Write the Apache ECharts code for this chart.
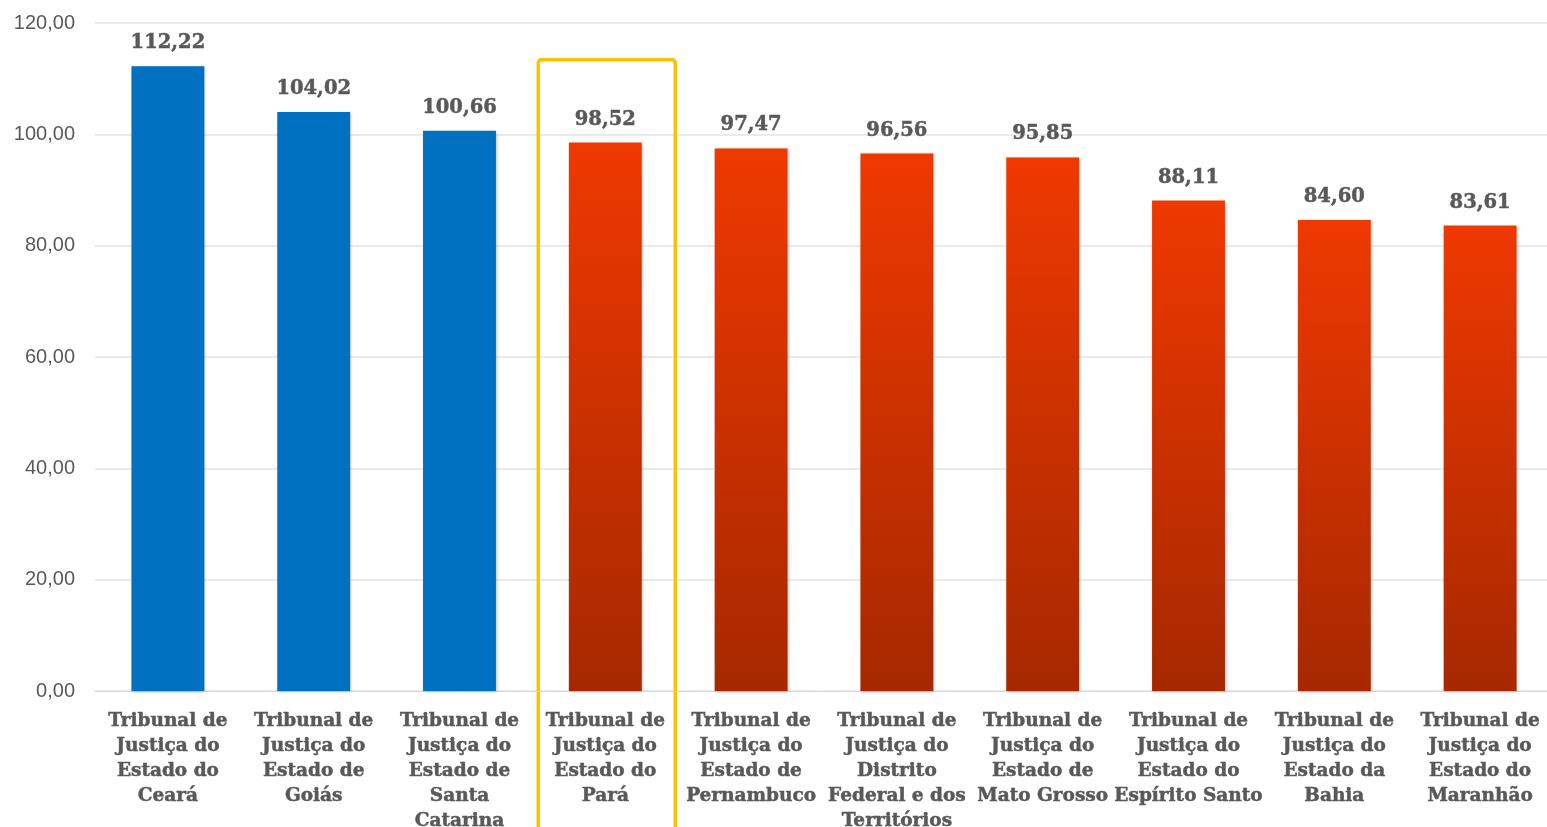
<!DOCTYPE html>
<html><head><meta charset="utf-8">
<script src="https://cdn.jsdelivr.net/npm/echarts@6/dist/echarts.min.js"></script>
<style>html,body{margin:0;padding:0;background:#fff}#c{width:1547px;height:827px}</style>
</head><body><div id="c"></div>
<script>
const categories = [
  "Tribunal de\nJustiça do\nEstado do\nCeará",
  "Tribunal de\nJustiça do\nEstado de\nGoiás",
  "Tribunal de\nJustiça do\nEstado de\nSanta\nCatarina",
  "Tribunal de\nJustiça do\nEstado do\nPará",
  "Tribunal de\nJustiça do\nEstado de\nPernambuco",
  "Tribunal de\nJustiça do\nDistrito\nFederal e dos\nTerritórios",
  "Tribunal de\nJustiça do\nEstado de\nMato Grosso",
  "Tribunal de\nJustiça do\nEstado do\nEspírito Santo",
  "Tribunal de\nJustiça do\nEstado da\nBahia",
  "Tribunal de\nJustiça do\nEstado do\nMaranhão"
];
const values = [112.22, 104.02, 100.66, 98.52, 97.47, 96.56, 95.85, 88.11, 84.60, 83.61];
const blueCount = 3;
const highlightIndex = 3;
const yTicks = {min: 0, max: 120, interval: 20};

const fmt = v => v.toFixed(2).replace('.', ',');
const redGrad = new echarts.graphic.LinearGradient(0, 0, 0, 1, [
  {offset: 0, color: '#EF3900'},
  {offset: 1, color: '#A62800'}
]);
const chart = echarts.init(document.getElementById('c'));
chart.setOption({
  animation: false,
  grid: {left: 95, width: 1458, top: 23, bottom: 136, outerBoundsMode: 'none', containLabel: false},
  xAxis: {
    type: 'category', data: categories,
    axisLine: {lineStyle: {color: '#D9D9D9', width: 1}},
    axisTick: {show: false},
    axisLabel: {interval: 0, color: '#595959', fontFamily: 'DejaVu Serif', fontWeight: 'bold',
      fontSize: 18.5, lineHeight: 25, margin: 18,
      textBorderColor: '#595959', textBorderWidth: 0.5}
  },
  yAxis: {
    type: 'value', min: yTicks.min, max: yTicks.max, interval: yTicks.interval,
    axisLine: {show: false}, axisTick: {show: false},
    splitLine: {lineStyle: {color: '#E3E3E3', width: 1.5}},
    axisLabel: {formatter: v => fmt(v), color: '#595959', fontFamily: 'Liberation Sans', fontSize: 20, margin: 20}
  },
  series: [{
    type: 'bar', barWidth: '50%',
    data: values.map((v, i) => ({
      value: v,
      itemStyle: {color: i < blueCount ? '#0070C0' : redGrad}
    })),
    itemStyle: {shadowBlur: 3, shadowColor: 'rgba(0,0,0,0.25)', shadowOffsetX: 1, shadowOffsetY: 1},
    label: {show: true, position: 'top', distance: 13, formatter: p => fmt(p.value),
      color: '#595959', fontFamily: 'DejaVu Serif', fontWeight: 'bold', fontSize: 19.5,
      textBorderColor: '#595959', textBorderWidth: 0.5}
  }]
});
const cx = chart.convertToPixel({xAxisIndex: 0}, highlightIndex);
const topY = chart.convertToPixel({yAxisIndex: 0}, 113.4);
chart.setOption({
  graphic: [{
    type: 'rect', silent: true,
    shape: {x: cx - 67, y: topY, width: 137, height: 800, r: 3},
    style: {fill: 'none', stroke: '#FFC000', lineWidth: 3.5}
  }]
});
</script></body></html>
